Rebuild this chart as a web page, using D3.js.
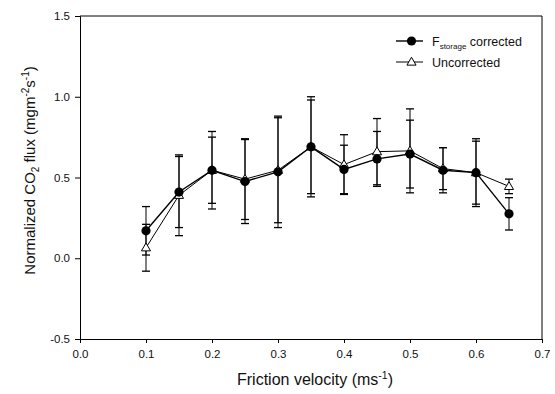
<!DOCTYPE html>
<html>
<head>
<meta charset="utf-8">
<script src="https://cdn.jsdelivr.net/npm/d3@7"></script>
<style>
  body { margin: 0; background: #fff; }
  text { font-family: "Liberation Sans", Arial, sans-serif; fill: #111; }
</style>
</head>
<body>
<div id="chart-area"></div>
<script>

// friction velocity classes (m/s)
var uStar = [0.10, 0.15, 0.20, 0.25, 0.30, 0.35, 0.40, 0.45, 0.50, 0.55, 0.60, 0.65];

// F storage corrected
var corrected    = [0.17, 0.41, 0.545, 0.475, 0.535, 0.69, 0.55, 0.615, 0.645, 0.545, 0.53, 0.275];
var correctedErr = [0.15, 0.22, 0.24, 0.26, 0.345, 0.31, 0.15, 0.17, 0.21, 0.14, 0.21, 0.10];

// Uncorrected
var uncorrected    = [0.065, 0.39, 0.545, 0.49, 0.545, 0.69, 0.58, 0.66, 0.665, 0.555, 0.53, 0.445];
var uncorrectedErr = [0.145, 0.25, 0.205, 0.25, 0.325, 0.29, 0.185, 0.205, 0.26, 0.13, 0.195, 0.045];

var xTicks = [0.0, 0.1, 0.2, 0.3, 0.4, 0.5, 0.6, 0.7];
var yTicks = [-0.5, 0.0, 0.5, 1.0, 1.5];

var margin = { left: 80, right: 13, top: 16, bottom: 55 },
    width = 555 - margin.left - margin.right,
    height = 394 - margin.top - margin.bottom;

var svg = d3.select("#chart-area").append("svg")
    .attr("width", 555)
    .attr("height", 394);

var g = svg.append("g")
    .attr("transform", "translate(" + margin.left + "," + margin.top + ")");

// Scales
var x = d3.scaleLinear().domain([0, 0.7]).range([0, width]);
var y = d3.scaleLinear().domain([-0.5, 1.5]).range([height, 0]);

var fmt = function(d){ return d3.format(".1f")(d).replace("\u2212", "-"); };

// Axes
var xAxis = g.append("g")
    .attr("class", "x axis")
    .attr("transform", "translate(0," + height + ")")
    .call(d3.axisBottom(x).tickValues(xTicks).tickFormat(fmt).tickSize(4).tickPadding(7));

var yAxis = g.append("g")
    .attr("class", "y axis")
    .call(d3.axisLeft(y).tickValues(yTicks).tickFormat(fmt).tickSize(5).tickPadding(5));

g.selectAll(".axis text").attr("font-size", "11.5px").attr("font-family", "Liberation Sans, Arial, sans-serif");
g.selectAll(".axis .domain").attr("stroke", "#000");
g.selectAll(".axis line").attr("stroke", "#000");

// frame top and right
g.append("line").attr("x1", 0).attr("x2", width).attr("y1", 0).attr("y2", 0)
    .attr("stroke", "#000");
g.append("line").attr("x1", width).attr("x2", width).attr("y1", 0).attr("y2", height)
    .attr("stroke", "#000");

// Labels
var xLabel = g.append("text")
    .attr("x", x(0.35) + 4)
    .attr("y", height + 46)
    .attr("font-size", "16px")
    .attr("text-anchor", "middle");
xLabel.append("tspan").text("Friction velocity (ms");
xLabel.append("tspan").attr("dy", -6).attr("font-size", "10.5px").text("-1");
xLabel.append("tspan").attr("dy", 6).text(")");

var yLabel = g.append("text")
    .attr("transform", "rotate(-90)")
    .attr("x", -(height / 2) + 7)
    .attr("y", -45)
    .attr("font-size", "15px")
    .attr("text-anchor", "middle");
yLabel.append("tspan").text("Normalized CO");
yLabel.append("tspan").attr("dy", 4).attr("font-size", "10px").text("2");
yLabel.append("tspan").attr("dy", -4).text(" flux (mgm");
yLabel.append("tspan").attr("dy", -6).attr("font-size", "10px").text("-2");
yLabel.append("tspan").attr("dy", 6).text("s");
yLabel.append("tspan").attr("dy", -6).attr("font-size", "10px").text("-1");
yLabel.append("tspan").attr("dy", 6).text(")");

// Build series
var series = [
    { name: "corrected", vals: corrected, errs: correctedErr, symbol: "circle" },
    { name: "uncorrected", vals: uncorrected, errs: uncorrectedErr, symbol: "triangle" }
];

var capW = 4;

// error bars (drawn under lines)
series.forEach(function(s){
    var data = uStar.map(function(u, i){ return { u: u, v: s.vals[i], e: s.errs[i] }; });
    var eb = g.append("g").attr("class", "errbars-" + s.name)
        .selectAll("g").data(data).enter().append("g");
    eb.append("line")
        .attr("x1", function(d){ return x(d.u); })
        .attr("x2", function(d){ return x(d.u); })
        .attr("y1", function(d){ return y(d.v - d.e); })
        .attr("y2", function(d){ return y(d.v + d.e); })
        .attr("stroke", "#000").attr("stroke-width", 1);
    eb.append("line")
        .attr("x1", function(d){ return x(d.u) - capW; })
        .attr("x2", function(d){ return x(d.u) + capW; })
        .attr("y1", function(d){ return y(d.v + d.e); })
        .attr("y2", function(d){ return y(d.v + d.e); })
        .attr("stroke", "#000").attr("stroke-width", 1.3);
    eb.append("line")
        .attr("x1", function(d){ return x(d.u) - capW; })
        .attr("x2", function(d){ return x(d.u) + capW; })
        .attr("y1", function(d){ return y(d.v - d.e); })
        .attr("y2", function(d){ return y(d.v - d.e); })
        .attr("stroke", "#000").attr("stroke-width", 1.3);
});

// Path generator
var line = d3.line()
    .x(function(d){ return x(d.u); })
    .y(function(d){ return y(d.v); });

var triangle = d3.symbol().type(d3.symbolTriangle).size(36);

// lines and markers (uncorrected first so filled circles sit on top)
[series[1], series[0]].forEach(function(s){
    var data = uStar.map(function(u, i){ return { u: u, v: s.vals[i] }; });
    g.append("path")
        .attr("d", line(data))
        .attr("fill", "none")
        .attr("stroke", "#000")
        .attr("stroke-width", s.symbol == "circle" ? 1.4 : 1);
    if (s.symbol == "circle") {
        g.selectAll(".pt-c").data(data).enter().append("circle")
            .attr("class", "pt-c")
            .attr("cx", function(d){ return x(d.u); })
            .attr("cy", function(d){ return y(d.v); })
            .attr("r", 4.6)
            .attr("fill", "#000");
    } else {
        g.selectAll(".pt-t").data(data).enter().append("path")
            .attr("class", "pt-t")
            .attr("d", triangle)
            .attr("transform", function(d){ return "translate(" + x(d.u) + "," + (y(d.v) + 0.5) + ")"; })
            .attr("fill", "#fff")
            .attr("stroke", "#000")
            .attr("stroke-width", 1);
    }
});

// Legend
var legend = svg.append("g").attr("transform", "translate(396,41)");

legend.append("line").attr("x1", 0).attr("x2", 27).attr("y1", 0).attr("y2", 0)
    .attr("stroke", "#000").attr("stroke-width", 1.4);
legend.append("circle").attr("cx", 15.5).attr("cy", 0).attr("r", 4.6).attr("fill", "#000");
var lt1 = legend.append("text").attr("x", 36).attr("y", 4.5).attr("font-size", "12.5px");
lt1.append("tspan").text("F");
lt1.append("tspan").attr("dy", 3).attr("font-size", "8px").text("storage");
lt1.append("tspan").attr("dy", -3).text(" corrected");

legend.append("line").attr("x1", 0).attr("x2", 27).attr("y1", 21).attr("y2", 21)
    .attr("stroke", "#000").attr("stroke-width", 1);
legend.append("path").attr("d", triangle)
    .attr("transform", "translate(15.5,21.5)")
    .attr("fill", "#fff").attr("stroke", "#000");
legend.append("text").attr("x", 36).attr("y", 25.5).attr("font-size", "12.5px").text("Uncorrected");

</script>
</body>
</html>
